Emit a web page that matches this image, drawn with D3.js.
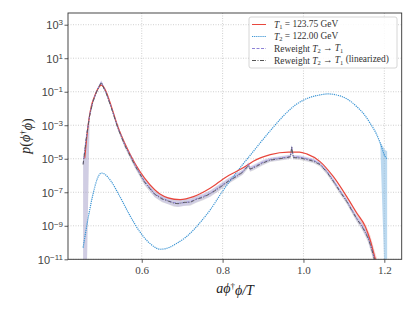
<!DOCTYPE html>
<html>
<head>
<meta charset="utf-8">
<script src="https://cdn.jsdelivr.net/npm/d3@7"></script>
<style>
  body { margin: 0; background: #fff; }
  svg { font-family: "Liberation Serif", "DejaVu Serif", serif; }
</style>
</head>
<body>
<svg width="415" height="311"></svg>
<script>
// T1 = 123.75 GeV (log10 of p)
var t1X = [0.459, 0.467, 0.475, 0.482, 0.488, 0.494, 0.5, 0.506, 0.512, 0.525, 0.541, 0.558, 0.583, 0.607, 0.632, 0.645, 0.665, 0.695, 0.728, 0.769, 0.81, 0.835, 0.86, 0.876, 0.918, 0.963, 0.99, 1.008, 1.041, 1.074, 1.107, 1.132, 1.153, 1.165, 1.176, 1.185];
var t1L = [-4.97, -3.08, -1.89, -1.35, -1.0, -0.72, -0.6, -0.72, -1.0, -1.89, -3.08, -4.07, -5.27, -6.16, -6.85, -7.1, -7.33, -7.44, -7.26, -6.76, -6.07, -5.75, -5.4, -5.15, -4.75, -4.6, -4.6, -4.71, -5.17, -6.07, -7.26, -8.25, -9.05, -9.85, -10.84, -11.6];

// T2 = 122.00 GeV
var t2X = [0.455, 0.468, 0.48, 0.49, 0.5, 0.51, 0.522, 0.546, 0.571, 0.595, 0.62, 0.646, 0.667, 0.687, 0.708, 0.728, 0.748, 0.769, 0.802, 0.835, 0.851, 0.868, 0.893, 0.926, 0.95, 0.975, 1.0, 1.017, 1.041, 1.06, 1.091, 1.112, 1.132, 1.15, 1.165, 1.18, 1.19, 1.202, 1.207];
var t2L = [-10.3, -8.46, -7.06, -6.2, -5.85, -5.95, -6.27, -7.26, -8.4, -9.35, -10.05, -10.4, -10.3, -10.04, -9.7, -9.25, -8.7, -8.06, -6.86, -5.8, -5.3, -4.8, -4.05, -3.1, -2.45, -1.89, -1.5, -1.33, -1.19, -1.13, -1.25, -1.5, -1.89, -2.35, -2.88, -3.5, -4.07, -4.87, -5.0];

// Reweight T2 -> T1
var rwX = [0.455, 0.4635, 0.471, 0.479, 0.488, 0.494, 0.5, 0.506, 0.512, 0.525, 0.541, 0.558, 0.583, 0.607, 0.632, 0.65, 0.665, 0.68, 0.69, 0.705, 0.72, 0.735, 0.752, 0.77, 0.794, 0.815, 0.835, 0.85, 0.864, 0.868, 0.876, 0.9, 0.918, 0.94, 0.96, 0.968, 0.971, 0.975, 0.99, 1.008, 1.025, 1.041, 1.058, 1.074, 1.09, 1.107, 1.12, 1.132, 1.145, 1.153, 1.16, 1.165, 1.17, 1.176, 1.18];
var rwL = [-5.3, -3.6, -2.4, -1.6, -1.0, -0.7, -0.42, -0.75, -1.05, -1.95, -3.15, -4.15, -5.35, -6.35, -7.1, -7.35, -7.5, -7.62, -7.66, -7.62, -7.56, -7.4, -7.25, -7.06, -6.65, -6.3, -6.0, -5.77, -5.35, -5.6, -5.5, -5.2, -5.05, -4.97, -4.9, -4.85, -4.28, -4.9, -4.9, -5.0, -5.1, -5.3, -5.75, -6.3, -6.9, -7.5, -8.05, -8.55, -9.0, -9.35, -9.7, -10.05, -10.45, -11.0, -11.6];
// Reweight T2 -> T1 (linearized)
var linL = [-5.35, -3.65, -2.45, -1.62, -1.02, -0.72, -0.45, -0.78, -1.08, -1.98, -3.18, -4.2, -5.4, -6.4, -7.12, -7.4, -7.52, -7.66, -7.68, -7.6, -7.6, -7.42, -7.3, -7.08, -6.7, -6.33, -6.05, -5.8, -5.4, -5.62, -5.55, -5.25, -5.08, -5.0, -4.93, -4.88, -4.3, -4.93, -4.95, -5.04, -5.15, -5.35, -5.8, -6.35, -6.95, -7.55, -8.1, -8.6, -9.05, -9.4, -9.75, -10.1, -10.5, -11.05, -11.65];
// band half-widths (decades); 9 = band reaches zero
var rwErrLo = [9, 9, 0.15, 0.12, 0.1, 0.1, 0.1, 0.1, 0.1, 0.1, 0.12, 0.15, 0.15, 0.18, 0.18, 0.2, 0.2, 0.2, 0.2, 0.2, 0.2, 0.2, 0.18, 0.18, 0.18, 0.16, 0.15, 0.15, 0.15, 0.15, 0.15, 0.14, 0.12, 0.12, 0.12, 0.12, 0.12, 0.12, 0.12, 0.12, 0.12, 0.12, 0.14, 0.14, 0.15, 0.15, 0.16, 0.18, 0.2, 0.22, 0.25, 0.3, 0.3, 0.35, 0.4];
var rwErrHi = [0.2, 0.2, 0.15, 0.12, 0.1, 0.1, 0.1, 0.1, 0.1, 0.1, 0.12, 0.15, 0.15, 0.18, 0.18, 0.2, 0.2, 0.2, 0.2, 0.2, 0.2, 0.2, 0.18, 0.18, 0.18, 0.16, 0.15, 0.15, 0.15, 0.15, 0.15, 0.14, 0.12, 0.12, 0.12, 0.12, 0.12, 0.12, 0.12, 0.12, 0.12, 0.12, 0.14, 0.14, 0.15, 0.15, 0.16, 0.18, 0.2, 0.22, 0.25, 0.3, 0.3, 0.35, 0.4];
var t1ErrBand = [0, 0, 0, 0, 0, 0, 0, 0, 0, 0, 0, 0, 0, 0, 0, 0, 0, 0, 0, 0, 0, 0, 0, 0, 0, 0, 0, 0, 0, 0, 0.05, 0.1, 0.15, 0.3, 0.35, 0.4];
var t2ErrLo = [0.05, 0.03, 0, 0, 0, 0, 0, 0, 0, 0, 0, 0, 0, 0, 0, 0, 0, 0, 0, 0, 0, 0, 0, 0, 0, 0, 0, 0, 0, 0, 0, 0, 0, 0, 0, 0, 0.05, 9, 9];
var t2ErrHi = [0.05, 0.03, 0, 0, 0, 0, 0, 0, 0, 0, 0, 0, 0, 0, 0, 0, 0, 0, 0, 0, 0, 0, 0, 0, 0, 0, 0, 0, 0, 0, 0, 0, 0, 0, 0, 0, 0.05, 0.4, 0.45];

var xTicks = [0.6, 0.8, 1.0, 1.2];
var yTickExp = [3, 1, -1, -3, -5, -7, -9, -11];

var svg = d3.select("svg");
var pLeft = 68, pRight = 401.7, pTop = 13, pBottom = 259.3;

var x = d3.scaleLinear().domain([0.4176, 1.243]).range([pLeft, pRight]);
var y = d3.scaleLog().domain([1e-11, 5e3]).range([pBottom, pTop]);

svg.append("defs").append("clipPath").attr("id", "plotclip")
  .append("rect").attr("x", pLeft).attr("y", pTop).attr("width", pRight - pLeft).attr("height", pBottom - pTop);

// grid
var grid = svg.append("g");
grid.selectAll(".gx").data(xTicks).enter().append("line")
  .attr("x1", function (d) { return x(d); }).attr("x2", function (d) { return x(d); })
  .attr("y1", pTop).attr("y2", pBottom)
  .attr("stroke", "#bbb").attr("stroke-width", 0.7).attr("stroke-dasharray", "1,1.5");
grid.selectAll(".gy").data(yTickExp).enter().append("line")
  .attr("y1", function (d) { return y(Math.pow(10, d)); }).attr("y2", function (d) { return y(Math.pow(10, d)); })
  .attr("x1", pLeft).attr("x2", pRight)
  .attr("stroke", "#bbb").attr("stroke-width", 0.7).attr("stroke-dasharray", "1,1.5");

var plot = svg.append("g").attr("clip-path", "url(#plotclip)");

function pts(xs, ls) {
  return xs.map(function (v, i) { return [v, Math.pow(10, ls[i])]; });
}
function bandPts(xs, ls, lo, hi) {
  return xs.map(function (v, i) {
    return { x: v, lo: Math.pow(10, ls[i] - lo[i]), hi: Math.pow(10, ls[i] + hi[i]) };
  });
}

var area = d3.area()
  .x(function (d) { return x(d.x); })
  .y0(function (d) { return y(Math.max(d.lo, 1e-13)); })
  .y1(function (d) { return y(d.hi); });

// bands
plot.append("path").datum(bandPts(rwX, linL, rwErrLo, rwErrHi))
  .attr("d", area).attr("fill", "rgba(140,140,140,0.25)");
plot.append("path").datum(bandPts(rwX, rwL, rwErrLo, rwErrHi))
  .attr("d", area).attr("fill", "rgba(165,155,230,0.3)");
plot.append("path").datum(bandPts(t1X, t1L, t1ErrBand, t1ErrBand))
  .attr("d", area).attr("fill", "rgba(235,90,80,0.25)");
plot.append("path").datum(bandPts(t2X, t2L, t2ErrLo, t2ErrHi))
  .attr("d", area).attr("fill", "rgba(120,180,225,0.5)");

var lineSmooth = d3.line().x(function (d) { return x(d[0]); }).y(function (d) { return y(d[1]); }).curve(d3.curveMonotoneX);
var lineRaw = d3.line().x(function (d) { return x(d[0]); }).y(function (d) { return y(d[1]); });

plot.append("path").datum(pts(t2X, t2L)).attr("d", lineSmooth)
  .attr("fill", "none").attr("stroke", "#3a94d4").attr("stroke-width", 1.2).attr("stroke-dasharray", "1.2,0.9");
plot.append("path").datum(pts(t1X, t1L)).attr("d", lineSmooth)
  .attr("fill", "none").attr("stroke", "#e8473d").attr("stroke-width", 1.2);
plot.append("path").datum(pts(rwX, rwL)).attr("d", lineRaw)
  .attr("fill", "none").attr("stroke", "#8d82d6").attr("stroke-width", 1).attr("stroke-dasharray", "3,1.5");
plot.append("path").datum(pts(rwX, linL)).attr("d", lineRaw)
  .attr("fill", "none").attr("stroke", "#555").attr("stroke-width", 0.9).attr("stroke-dasharray", "4,1.5,1,1.5");

// axes
var xAxis = d3.axisBottom(x).tickValues(xTicks).tickFormat(d3.format(".1f")).tickSize(3.5).tickPadding(3);
var gx = svg.append("g").attr("transform", "translate(0," + pBottom + ")").call(xAxis);
var yAxis = d3.axisLeft(y).tickValues(yTickExp.map(function (e) { return Math.pow(10, e); }))
  .tickFormat("").tickSize(3.5);
var gy = svg.append("g").attr("transform", "translate(" + pLeft + ",0)").call(yAxis);

[gx, gy].forEach(function (g) {
  g.select(".domain").remove();
  g.selectAll("line").attr("stroke", "#333").attr("stroke-width", 0.8);
  g.selectAll("text").attr("fill", "#444").style("font-size", "11px").attr("font-family", "Liberation Serif, serif");
});

gy.selectAll(".tick").each(function (d, i) {
  var t = d3.select(this).append("text").attr("x", -5).attr("dy", "0.35em")
    .attr("text-anchor", "end").attr("fill", "#444").style("font-size", "11px");
  t.append("tspan").text("10");
  t.append("tspan").attr("dy", "-0.45em").style("font-size", "8px").text(yTickExp[i] < 0 ? "\u2212" + (-yTickExp[i]) : String(yTickExp[i]));
});

// frame
svg.append("rect").attr("x", pLeft).attr("y", pTop).attr("width", pRight - pLeft).attr("height", pBottom - pTop)
  .attr("fill", "none").attr("stroke", "#333").attr("stroke-width", 0.9);

// axis labels
var yl = svg.append("text").attr("transform", "translate(30,136) rotate(-90)")
  .attr("text-anchor", "middle").attr("fill", "#222").style("font-size", "14px");
yl.append("tspan").style("font-style", "italic").text("p");
yl.append("tspan").text("(");
yl.append("tspan").style("font-style", "italic").text("\u03d5");
yl.append("tspan").attr("dy", "-0.4em").style("font-size", "9px").text("\u2020");
yl.append("tspan").attr("dy", "0.4em").style("font-style", "italic").text("\u03d5");
yl.append("tspan").text(")");

var xl = svg.append("text").attr("x", 235).attr("y", 293)
  .attr("text-anchor", "middle").attr("fill", "#222").style("font-size", "14px").style("font-style", "italic");
xl.append("tspan").text("a\u03d5");
xl.append("tspan").attr("dy", "-0.4em").style("font-size", "9px").style("font-style", "normal").text("\u2020");
xl.append("tspan").attr("dy", "0.4em").text("\u03d5/T");

// legend
var legItems = [
  { sub: "1", rest: " = 123.75 GeV", color: "#e8473d", dash: null },
  { sub: "2", rest: " = 122.00 GeV", color: "#3a94d4", dash: "1.2,0.9" },
  { rw: true, lin: false, color: "#8d82d6", dash: "3,1.5" },
  { rw: true, lin: true, color: "#555", dash: "4,1.5,1,1.5" }
];
var leg = svg.append("g");
leg.append("rect").attr("x", 249).attr("y", 17).attr("width", 148).attr("height", 51).attr("rx", 2)
  .attr("fill", "rgba(255,255,255,0.85)").attr("stroke", "#ccc").attr("stroke-width", 0.8);
legItems.forEach(function (it, i) {
  var yy = 24.5 + i * 12;
  leg.append("line").attr("x1", 252).attr("x2", 266).attr("y1", yy).attr("y2", yy)
    .attr("stroke", it.color).attr("stroke-width", 1).attr("stroke-dasharray", it.dash);
  var t = leg.append("text").attr("x", 274).attr("y", yy).attr("dy", "0.35em")
    .attr("fill", "#333").style("font-size", "9.4px");
  if (!it.rw) {
    t.append("tspan").style("font-style", "italic").text("T");
    t.append("tspan").attr("dy", "0.25em").style("font-size", "6.5px").text(it.sub);
    t.append("tspan").attr("dy", "-0.25em").text(it.rest);
  } else {
    t.append("tspan").text("Reweight ");
    t.append("tspan").style("font-style", "italic").text("T");
    t.append("tspan").attr("dy", "0.25em").style("font-size", "6.5px").text("2");
    t.append("tspan").attr("dy", "-0.25em").text(" \u2192 ");
    t.append("tspan").style("font-style", "italic").text("T");
    t.append("tspan").attr("dy", "0.25em").style("font-size", "6.5px").text("1");
    if (it.lin) t.append("tspan").attr("dy", "-0.25em").text(" (linearized)");
  }
});
</script>
</body>
</html>
